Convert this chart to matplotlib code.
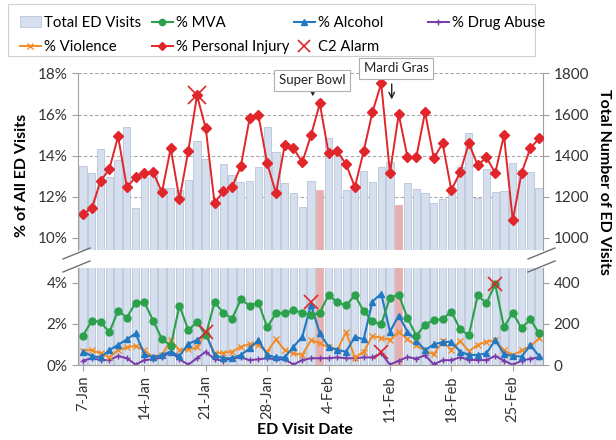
import numpy as np
import pandas as pd
import matplotlib
matplotlib.use("Agg")
import matplotlib.pyplot as plt
import matplotlib.dates as mdates
from matplotlib.lines import Line2D
from matplotlib.patches import Patch, Rectangle
from matplotlib.ticker import FuncFormatter

plt.rcParams['font.family'] = ['Lato', 'DejaVu Sans']

# daily ED visit data, 7-Jan to 28-Feb 2013
dates = pd.date_range("2013-01-07", "2013-02-28")
total_visits = [1349, 1317, 1430, 1297, 1381, 1537, 1144, 1294, 1330, 1241, 1241, 1233, 1281, 1470,
                1386, 1184, 1357, 1305, 1273, 1278, 1346, 1540, 1418, 1265, 1217, 1152, 1276, 1233,
                1488, 1397, 1233, 1249, 1325, 1273, 1346, 1370, 1160, 1265, 1236, 1217, 1168, 1189,
                1249, 1346, 1508, 1192, 1333, 1224, 1229, 1365, 1330, 1321, 1244]
pct_injury = [11.16, 11.45, 12.76, 13.34, 14.94, 12.47, 12.95, 13.15, 13.19, 12.22, 14.36, 11.88,
              14.21, 16.93, 15.33, 11.69, 12.27, 12.47, 13.49, 15.82, 15.96, 13.63, 12.17, 14.50,
              14.36, 13.68, 14.99, 16.54, 14.12, 14.21, 13.58, 12.47, 14.21, 16.11, 17.51, 13.15,
              16.01, 13.92, 13.92, 16.11, 13.87, 14.60, 12.32, 13.19, 14.60, 13.53, 13.92, 13.15,
              14.99, 10.86, 13.15, 14.36, 14.84]
pct_mva = [1.43, 2.16, 2.11, 1.59, 2.65, 2.31, 3.04, 3.06, 2.16, 1.27, 0.93, 2.89, 1.71, 2.08,
           1.46, 3.06, 2.55, 2.26, 3.20, 2.89, 3.04, 1.84, 2.52, 2.52, 2.68, 2.55, 2.44, 2.55,
           3.41, 3.06, 2.91, 3.40, 2.63, 2.14, 1.98, 3.28, 3.43, 2.29, 1.43, 1.97, 2.20, 2.23,
           2.60, 1.74, 1.45, 3.40, 3.01, 3.95, 1.84, 2.55, 1.79, 2.23, 1.54]
pct_alcohol = [0.65, 0.44, 0.37, 0.73, 0.98, 1.25, 1.54, 0.52, 0.37, 0.49, 0.65, 0.44, 1.03, 1.22,
               1.52, 0.49, 0.33, 0.33, 0.49, 0.81, 1.22, 0.49, 0.37, 0.37, 0.89, 1.38, 2.93, 1.54,
               0.89, 0.73, 0.65, 1.38, 1.25, 3.09, 3.48, 1.63, 2.41, 1.63, 1.19, 0.73, 1.01, 1.11,
               1.14, 0.65, 0.49, 0.49, 0.57, 1.22, 0.54, 0.44, 0.41, 0.96, 0.44]
pct_violence = [0.70, 0.73, 0.57, 0.37, 0.73, 0.86, 0.93, 0.73, 0.37, 0.49, 1.22, 0.73, 0.76, 0.86,
                1.55, 0.57, 0.60, 0.65, 0.89, 1.02, 0.98, 0.65, 1.25, 0.73, 0.57, 0.49, 1.22, 1.06,
                0.86, 0.73, 1.61, 0.36, 0.65, 1.41, 1.33, 1.22, 1.63, 1.25, 0.96, 0.70, 0.52, 1.17,
                0.73, 1.17, 0.68, 0.98, 1.14, 1.20, 0.73, 0.47, 0.71, 0.91, 1.30]
pct_drug = [0.21, 0.33, 0.24, 0.24, 0.44, 0.33, 0.02, 0.24, 0.28, 0.37, 0.65, 0.28, 0.02, 0.33,
            0.65, 0.28, 0.21, 0.33, 0.37, 0.24, 0.28, 0.33, 0.28, 0.28, 0.02, 0.24, 0.33, 0.33,
            0.33, 0.37, 0.33, 0.33, 0.37, 0.37, 0.57, 0.02, 0.21, 0.39, 0.31, 0.47, 0.03, 0.23,
            0.24, 0.37, 0.26, 0.24, 0.24, 0.44, 0.21, 0.01, 0.21, 0.31, 0.37]

# C2 alarms (date, % value)
alarm_top_dates = ["2013-01-20"]
alarm_top_vals = [16.93]
alarm_bot_dates = ["2013-01-21", "2013-02-02", "2013-02-10", "2013-02-23"]
alarm_bot_vals = [1.62, 3.05, 0.62, 3.95]

events = ["Super Bowl", "Mardi Gras"]
event_dates = ["2013-02-03", "2013-02-12"]

c_bar = "#d5dfed"
c_bar_edge = "#b8c6da"
c_event = "#e6b0b0"
c_inj = "#e0262b"
c_mva = "#2aa14a"
c_alc = "#2278c2"
c_vio = "#f28b26"
c_drug = "#7a3aa8"
c_grid = "#a6a6a6"

fig = plt.figure(figsize=(6.16, 4.40), dpi=100)
W, H = 616, 440
left, right = 78, 543
ax_t = fig.add_axes([left / W, 1 - 250 / H, (right - left) / W, 177 / H])
ax_b = fig.add_axes([left / W, 1 - 365 / H, (right - left) / W, 97 / H])
ax_t2 = ax_t.twinx()
ax_b2 = ax_b.twinx()

ev = pd.to_datetime(event_dates)
bar_colors = [c_event if d in ev else c_bar for d in dates]
bar_edges = [c_event if d in ev else c_bar_edge for d in dates]
for a in (ax_t2, ax_b2):
    a.bar(dates, total_visits, width=0.82, color=bar_colors, edgecolor=bar_edges, linewidth=0.6)

for a, a2 in ((ax_t, ax_t2), (ax_b, ax_b2)):
    a.set_zorder(a2.get_zorder() + 1)
    a.patch.set_visible(False)

xmin = dates[0] - pd.Timedelta(days=0.57)
xmax = dates[-1] + pd.Timedelta(days=0.45)
for a in (ax_t, ax_b, ax_t2, ax_b2):
    a.set_xlim(xmin, xmax)

# top panel: personal injury
ax_t.plot(dates, pct_injury, color=c_inj, lw=1.4, marker="D", ms=5, mfc=c_inj, mec=c_inj)
ax_t.plot(pd.to_datetime(alarm_top_dates), alarm_top_vals, ls="none", marker="x", ms=13,
          mew=1.2, color=c_inj)
ax_t.set_ylim(9.41, 18.02)
ax_t2.set_ylim(941, 1802)
ax_t.set_yticks([10, 12, 14, 16, 18])
ax_t2.set_yticks([1000, 1200, 1400, 1600, 1800])
for v in [12, 14, 16, 18]:
    ax_t2.axhline(v * 100, color=c_grid, lw=0.8, ls=(0, (3, 2)), zorder=0)

# bottom panel: MVA, alcohol, drug abuse, violence
ax_b.plot(dates, pct_drug, color=c_drug, lw=1.4, marker="+", ms=5, mew=1.0)
ax_b.plot(dates, pct_violence, color=c_vio, lw=1.4, marker="x", ms=4, mew=1.0)
ax_b.plot(dates, pct_alcohol, color=c_alc, lw=1.5, marker="^", ms=4.5)
ax_b.plot(dates, pct_mva, color=c_mva, lw=1.5, marker="o", ms=5)
ax_b.plot(pd.to_datetime(alarm_bot_dates), alarm_bot_vals, ls="none", marker="x", ms=10,
          mew=1.2, color=c_inj)
ax_b.set_ylim(0, 4.73)
ax_b2.set_ylim(0, 473)
ax_b.set_yticks([0, 2, 4])
ax_b2.set_yticks([0, 200, 400])

pct_fmt = FuncFormatter(lambda v, p: f"{v:.0f}%")
ax_t.yaxis.set_major_formatter(pct_fmt)
ax_b.yaxis.set_major_formatter(pct_fmt)

for a in (ax_t, ax_b, ax_t2, ax_b2):
    for s in a.spines.values():
        s.set_visible(False)
        s.set_color("#a0a0a0")
        s.set_linewidth(0.8)
    a.tick_params(axis="y", labelsize=11, color="#a0a0a0", length=4, labelcolor="#333333")
ax_t.spines["left"].set_visible(True)
ax_b.spines["left"].set_visible(True)
ax_t2.spines["right"].set_visible(True)
ax_b2.spines["right"].set_visible(True)
ax_b.spines["bottom"].set_visible(True)

ax_t.tick_params(axis="x", bottom=False, labelbottom=False)
ax_t2.tick_params(axis="x", bottom=False, labelbottom=False)
ax_b2.tick_params(axis="x", bottom=False, labelbottom=False)
ax_b.xaxis.set_major_locator(mdates.WeekdayLocator(byweekday=mdates.MO))
ax_b.xaxis.set_major_formatter(mdates.DateFormatter("%-d-%b"))
ax_b.tick_params(axis="x", labelsize=10.5, rotation=90, color="#a0a0a0", length=4,
                 labelcolor="#333333")

# event call-outs
for name, d, (tx, ty), (ay0, ay1) in zip(events, ev,
                                         [(-0.9, 17.66), (-0.3, 18.24)],
                                         [(17.28, 16.75), (17.62, 16.6)]):
    ax_t.annotate("", xy=(d - pd.Timedelta(days=0.8), ay1),
                  xytext=(d - pd.Timedelta(days=0.8), ay0),
                  arrowprops=dict(arrowstyle="->", color="#222222", lw=1.0),
                  annotation_clip=False)
    ax_t.text(d + pd.Timedelta(days=tx), ty, name, ha="center", va="center", fontsize=9.5,
              color="#222222", clip_on=False, zorder=10,
              bbox=dict(boxstyle="square,pad=0.35", fc="white", ec="#b0b0b0", lw=0.8))

# axis-break marks
for x0 in (63, 528):
    for y0 in (259, 272):
        fig.add_artist(Line2D([x0 / W, (x0 + 27) / W], [1 - y0 / H, 1 - (y0 - 11) / H],
                              color="#707070", lw=1.0))

fig.text(22 / W, 1 - 175 / H, "% of All ED Visits", rotation=90, ha="center", va="center",
         fontsize=11.5, fontweight="bold")
fig.text(604 / W, 1 - 182 / H, "Total Number of ED Visits", rotation=270, ha="center",
         va="center", fontsize=11.5, fontweight="bold")
fig.text(305 / W, 1 - 430 / H, "ED Visit Date", ha="center", va="center", fontsize=11.5,
         fontweight="bold")

# legend: four equal-width columns inside one frame
legend_cols = [
    ([Patch(fc=c_bar, ec=c_bar_edge, lw=0.6),
      Line2D([], [], color=c_vio, lw=1.4, marker="x", ms=4)],
     ["Total ED Visits", "% Violence"]),
    ([Line2D([], [], color=c_mva, lw=1.5, marker="o", ms=4.5),
      Line2D([], [], color=c_inj, lw=1.4, marker="D", ms=4.5)],
     ["% MVA", "% Personal Injury"]),
    ([Line2D([], [], color=c_alc, lw=1.5, marker="^", ms=4.5),
      Line2D([], [], color=c_inj, ls="none", marker="x", ms=9, mew=1.2)],
     ["% Alcohol", "C2 Alarm"]),
    ([Line2D([], [], color=c_drug, lw=1.4, marker="+", ms=5)],
     ["% Drug Abuse"]),
]
for (hs, ls), x0 in zip(legend_cols, (8, 140, 282, 416)):
    fig.legend(hs, ls, loc="upper left", bbox_to_anchor=(x0 / W, 1 - 4 / H), fontsize=10.7,
               frameon=False, handlelength=1.4, handletextpad=0.2, borderpad=0.3,
               labelspacing=0.68)
fig.add_artist(Rectangle((8 / W, 1 - 56 / H), 527 / W, 52 / H, transform=fig.transFigure,
                         fill=False, ec="#d0d0d0", lw=0.8))

fig.savefig("out.png", dpi=100)
